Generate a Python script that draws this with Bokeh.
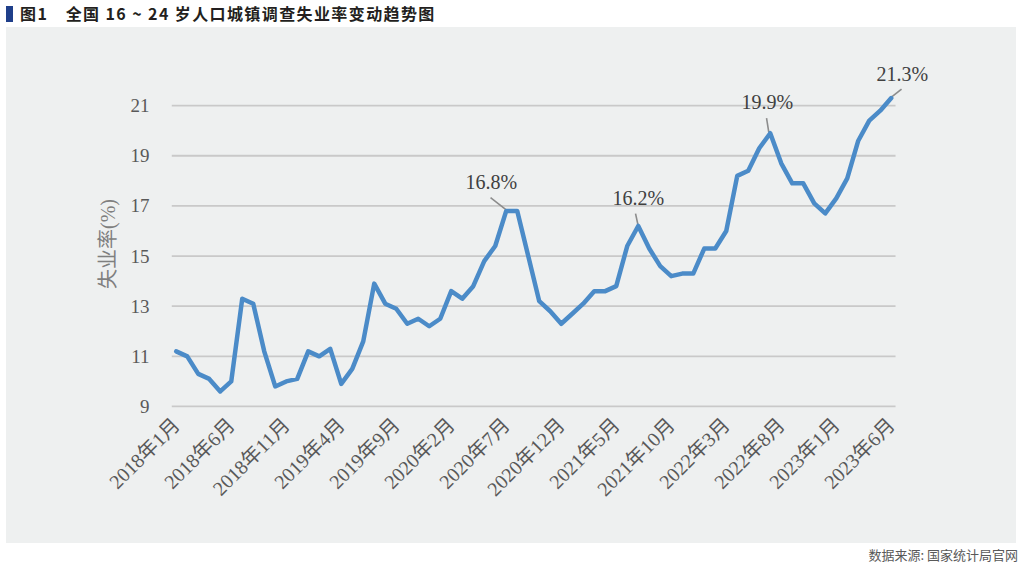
from bokeh.plotting import figure
from bokeh.models import Range1d, FixedTicker, Label, Div, ColumnDataSource
from bokeh.layouts import column
from bokeh.embed import file_html
from bokeh.resources import INLINE
import math

# ---------------- data ----------------
month_index = list(range(66))  # 2018年1月 .. 2023年6月
rate = [11.2, 11.0, 10.3, 10.1, 9.6, 10.0, 13.3, 13.1, 11.2, 9.8, 10.0, 10.1,
        11.2, 11.0, 11.3, 9.9, 10.5, 11.6, 13.9, 13.1, 12.9, 12.3, 12.5, 12.2,
        12.5, 13.6, 13.3, 13.8, 14.8, 15.4, 16.8, 16.8, 15.0, 13.2, 12.8, 12.3,
        12.7, 13.1, 13.6, 13.6, 13.8, 15.4, 16.2, 15.3, 14.6, 14.2, 14.3, 14.3,
        15.3, 15.3, 16.0, 18.2, 18.4, 19.3, 19.9, 18.7, 17.9, 17.9, 17.1, 16.7,
        17.3, 18.1, 19.6, 20.4, 20.8, 21.3]
tick_pos = [0, 5, 10, 15, 20, 25, 30, 35, 40, 45, 50, 55, 60, 65]
tick_labels = ["2018年1月", "2018年6月", "2018年11月", "2019年4月", "2019年9月",
               "2020年2月", "2020年7月", "2020年12月", "2021年5月", "2021年10月",
               "2022年3月", "2022年8月", "2023年1月", "2023年6月"]
y_ticks = [9, 11, 13, 15, 17, 19, 21]
peak_idx = [30, 42, 54, 65]
peak_text = ["16.8%", "16.2%", "19.9%", "21.3%"]

# ---------------- style ----------------
PANEL = "#eef0f0"
SERIF = "'Liberation Serif', 'Noto Sans CJK SC'"
W, H = 1010, 516
BL, BR, BT, BB = 165, 40, 33, 136
XR = (-0.43, 72.75)
YR = (8.96, 22.8)
GRID_END = 65.39
XPX = (W - BL - BR) / (XR[1] - XR[0])
YPX = (H - BT - BB) / (YR[1] - YR[0])

# label offsets (pixels) and leader line offsets (pixels)
lab_off = [(-15, 29), (0, 28), (-3, 31), (11, 24)]
lead_off = [((-15.7, 13.3), (0, 1)), ((-2.7, 12.4), (-0.4, 1.7)),
            ((-3.7, 15), (-1.4, 0.6)), ((10.3, 9), (-2.4, -1))]

p = figure(width=W, height=H, x_range=Range1d(*XR), y_range=Range1d(*YR),
           output_backend="svg", toolbar_location=None,
           min_border_left=BL, min_border_right=BR, min_border_top=BT,
           min_border_bottom=BB)
p.margin = (0, 8, 0, 6)
p.styles = {"background-color": PANEL}
p.background_fill_color = PANEL
p.border_fill_color = PANEL
p.outline_line_color = None
p.xgrid.visible = False
p.ygrid.visible = False

# horizontal gridlines (limited to the category span)
p.segment(x0=[XR[0]] * len(y_ticks), y0=y_ticks,
          x1=[GRID_END] * len(y_ticks), y1=y_ticks,
          line_color="#c9c9c9", line_width=1.8)

# axes
p.xaxis.ticker = FixedTicker(ticks=tick_pos)
p.xaxis.major_label_overrides = {t: l for t, l in zip(tick_pos, tick_labels)}
p.xaxis.major_label_orientation = math.pi / 4
p.xaxis.major_label_text_font = SERIF
p.xaxis.major_label_text_font_size = "20px"
p.xaxis.major_label_text_color = "#595959"
p.xaxis.major_label_standoff = 8
p.xaxis.axis_line_color = None
p.xaxis.major_tick_line_color = None
p.xaxis.minor_tick_line_color = None

p.yaxis.ticker = FixedTicker(ticks=y_ticks)
p.yaxis.major_label_text_font = SERIF
p.yaxis.major_label_text_font_size = "19px"
p.yaxis.major_label_text_color = "#595959"
p.yaxis.major_label_standoff = 16
p.yaxis.axis_line_color = None
p.yaxis.major_tick_line_color = None
p.yaxis.minor_tick_line_color = None
p.yaxis.axis_label = "失业率(%)" + "\u00a0" * 4
p.yaxis.axis_label_text_font = SERIF
p.yaxis.axis_label_text_font_style = "normal"
p.yaxis.axis_label_text_font_size = "20px"
p.yaxis.axis_label_text_color = "#7f7f7f"
p.yaxis.axis_label_standoff = 9

# leader lines
x0 = [peak_idx[i] + lead_off[i][0][0] / XPX for i in range(4)]
y0 = [rate[peak_idx[i]] + lead_off[i][0][1] / YPX for i in range(4)]
x1 = [peak_idx[i] + lead_off[i][1][0] / XPX for i in range(4)]
y1 = [rate[peak_idx[i]] + lead_off[i][1][1] / YPX for i in range(4)]
p.segment(x0=x0, y0=y0, x1=x1, y1=y1, line_color="#8c8c8c", line_width=1.6)

src = ColumnDataSource(dict(x=month_index, y=rate))
p.line("x", "y", source=src, line_color="#4b8bc8", line_width=4.5,
       line_join="round", line_cap="round")

for i, idx in enumerate(peak_idx):
    p.add_layout(Label(x=idx, y=rate[idx], text=peak_text[i],
                       x_offset=lab_off[i][0], y_offset=lab_off[i][1],
                       text_align="center", text_baseline="middle",
                       text_font="Liberation Serif", text_font_size="20px",
                       text_color="#404040"))

title_div = Div(
    text=('<div style="display:flex;align-items:center;height:27px;">'
          '<span style="display:inline-block;width:7px;height:16px;background:#1f3f8a;'
          'margin-left:6px;margin-right:7px;"></span>'
          '<span style="font-family:\'Noto Sans CJK SC\';font-weight:bold;font-size:16px;'
          'letter-spacing:1.4px;color:#231f20;white-space:pre;">图1　全国 16 ~ 24 岁人口城镇调查失业率变动趋势图</span></div>'),
    width=1024, height=27, margin=0)
src_div = Div(
    text=('<div style="width:1018px;height:23px;line-height:23px;text-align:right;'
          'font-family:\'Noto Sans CJK SC\';font-size:13px;color:#595959;">'
          '数据来源: 国家统计局官网</div>'),
    width=1024, height=23, margin=0)

layout = column(title_div, p, src_div, spacing=0, margin=0)
open("out.html", "w").write(file_html(layout, INLINE))
